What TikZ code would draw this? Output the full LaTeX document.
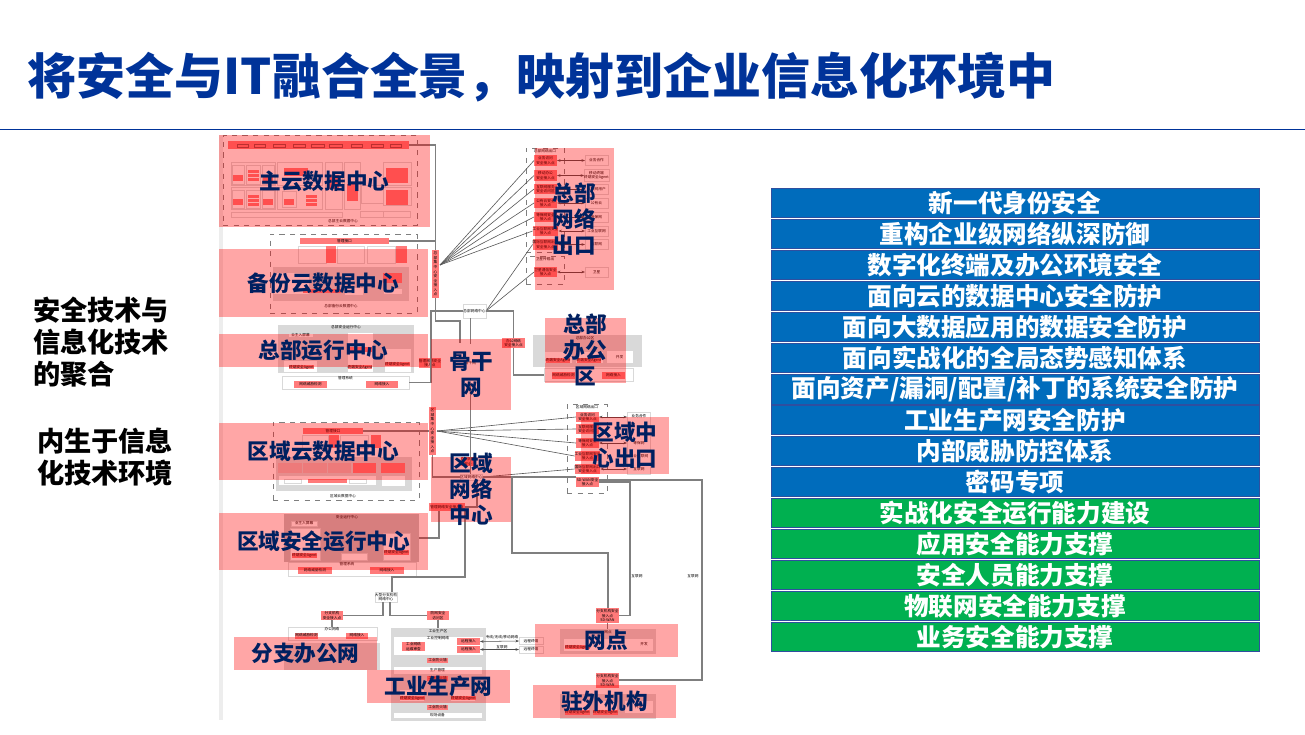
\documentclass[tikz,border=0pt]{standalone}
\usepackage{fontspec}
\setmainfont{Noto Sans CJK SC}
\usepackage{xcolor}
\usepackage{tikz}
\usetikzlibrary{arrows.meta,positioning,calc}
\definecolor{TitleBlue}{HTML}{003399}
\definecolor{Navy}{HTML}{002060}
\definecolor{RowBlue}{HTML}{006CBC}
\definecolor{RowGreen}{HTML}{00B050}
\definecolor{RowEdge}{HTML}{2F4F9F}
\definecolor{BoxRed}{HTML}{FF7A7A}
\definecolor{BoxGrey}{HTML}{D9D9D9}
\definecolor{LineGrey}{HTML}{7F7F7F}
\newcommand{\minifont}{\fontsize{2.1}{2.6}\selectfont}

\begin{document}
\begin{tikzpicture}[
  x=0.02cm, y=-0.02cm,
  every node/.style={font=\minifont, inner sep=0pt, outer sep=0pt, align=center},
  wh/.style 2 args={minimum width=#1*0.02cm, minimum height=#2*0.02cm},
  wbox/.style={rectangle, draw=BoxGrey, fill=white, line width=0.4pt},
  gbox/.style={rectangle, fill=BoxGrey},
  rbox/.style={rectangle, fill=BoxRed},
  dbox/.style={rectangle, draw=LineGrey, dashed, line width=0.4pt},
  zone/.style={rectangle, fill=red, fill opacity=0.35},
  zlabel/.style={font=\fontsize{12.3}{14.8}\selectfont\bfseries, text=Navy},
  row/.style={rectangle, draw=RowEdge, line width=0.5pt, wh={488}{29.5}, text=white,
              font=\fontsize{14}{16}\selectfont\bfseries},
  blurow/.style={row, fill=RowBlue},
  grnrow/.style={row, fill=RowGreen},
  side/.style={font=\fontsize{15.5}{18.2}\selectfont\bfseries, align=left},
  link/.style={draw=LineGrey, line width=0.6pt},
  fan/.style={draw=black!65, line width=0.35pt},
  dbl/.style={{Stealth[length=2pt,width=1.5pt]}-{Stealth[length=2pt,width=1.5pt]}, draw=black!70, line width=0.3pt},
]
\useasboundingbox (0,0) rectangle (1305,734);

%% ─ Title ────────────────────────────────────────────────────────────────────
\node[anchor=west, font=\fontsize{27.85}{30}\selectfont\bfseries, text=TitleBlue] (title) at (28,77)
     {将安全与IT融合全景，映射到企业信息化环境中};
\coordinate (ruleL) at (0,129);
\coordinate (ruleR) at (1305,129);
\draw[TitleBlue, line width=0.5pt] (ruleL) -- (ruleR);

%% ─ Left text ────────────────────────────────────────────────────────────────
\node[side, anchor=north west] (lefta) at (33,297) {安全技术与\\信息化技术\\的聚合};
\node[side, anchor=north west] (leftb) at (37,428) {内生于信息\\化技术环境};

%% ─ Sheet edge ───────────────────────────────────────────────────────────────
\node[gbox, fill=black!7, wh={4}{585}, anchor=north west] (edge) at (219,135) {};

%% ─ Main cloud ───────────────────────────────────────────────────────────────
\node[dbox, wh={194}{90}] (maindc) at (320,180) {};
\node[rbox, wh={181}{8}] (mainbar) at (318.5,145) {};
\node[wbox, draw=BoxRed!60!black, fill=BoxRed, wh={11}{3}] (p1) at (243,146) {};
\node[wbox, draw=BoxRed!60!black, fill=BoxRed, wh={11}{3}] (p2) at (260,146) {};
\node[wbox, draw=BoxRed!60!black, fill=BoxRed, wh={12}{3}] (p3) at (279,146) {};
\node[wbox, draw=BoxRed!60!black, fill=BoxRed, wh={12}{3}] (p4) at (299,146) {};
\node[wbox, draw=BoxRed!60!black, fill=BoxRed, wh={13}{3}] (p5) at (318,146) {};
\node[wbox, draw=BoxRed!60!black, fill=BoxRed, wh={13}{3}] (p6) at (336,146) {};
\node[wbox, draw=BoxRed!60!black, fill=BoxRed, wh={11}{3}] (p7) at (357,146) {};
\node[wbox, draw=BoxRed!60!black, fill=BoxRed, wh={12}{3}] (p8) at (377,146) {};
\node[wbox, draw=BoxRed!60!black, fill=BoxRed, wh={11}{3}] (p9) at (396,146) {};
\node[wbox, wh={44}{23}] (g1) at (253,173.5) {};
\node[wbox, wh={45}{23}] (g2) at (299.5,173.5) {};
\node[wbox, wh={44}{22}] (g3) at (253,198) {};
\node[wbox, wh={45}{22}] (g4) at (299.5,198) {};
\node[wbox, wh={12}{19}] (h1) at (238,175) {};
\node[wbox, wh={14}{19}] (h2) at (253,175) {};
\node[wbox, wh={12}{19}] (h3) at (268,175) {};
\node[wbox, wh={12}{18}] (h4) at (238,199) {};
\node[wbox, wh={14}{18}] (h5) at (253,199) {};
\node[wbox, wh={12}{18}] (h6) at (268,199) {};
\node[rbox, wh={10}{6}] (g1a) at (238,177.5) {};
\node[rbox, wh={11}{3}] (g1b) at (253,171.5) {};
\node[rbox, wh={11}{3}] (g1d) at (253,175.5) {};
\node[rbox, wh={11}{3}] (g1e) at (253,179.5) {};
\node[rbox, wh={10}{6}] (g1c) at (268,177.5) {};
\node[rbox, wh={10}{6}] (g3a) at (238,202) {};
\node[rbox, wh={11}{3}] (g3b) at (253,196) {};
\node[rbox, wh={11}{3}] (g3d) at (253,200) {};
\node[rbox, wh={11}{3}] (g3e) at (253,204) {};
\node[rbox, wh={10}{6}] (g3c) at (268,202) {};
\node[rbox, wh={24}{8}] (g2a) at (296,172) {};
\node[wbox, wh={14}{16}] (g4s) at (289,199) {};
\node[rbox, wh={10}{6}] (g4a) at (289,202) {};
\node[rbox, wh={11}{3}] (g4b) at (311,196) {};
\node[rbox, wh={11}{3}] (g4c) at (311,200) {};
\node[rbox, wh={11}{3}] (g4d) at (311,204) {};
\node[wbox, wh={17}{47}] (g5) at (333.5,185.5) {};
\node[rbox, wh={11}{14}] (g5a) at (333.5,182) {};
\node[wbox, wh={16}{47}] (g6) at (352,185.5) {};
\node[rbox, wh={11}{17}] (g6a) at (352,192) {};
\node[wbox, wh={28}{23}] (g7) at (397,173.5) {};
\node[rbox, wh={22}{15}] (g7a) at (397,175) {};
\node[wbox, wh={22}{18}] (g8) at (372,194) {};
\node[wbox, wh={28}{18}] (g9) at (397,196) {};
\node[rbox, wh={22}{15}] (g9a) at (397,197) {};
\node[wbox, wh={111}{5}] (g10) at (286.5,214.5) {};
\node[wbox, wh={23}{6}] (g11) at (372,214.5) {};
\node[wbox, wh={27}{6}] (g12) at (397,214.5) {};
\node (maincap) at (343,221) {总部主云数据中心};

%% ─ Backup cloud ─────────────────────────────────────────────────────────────
\node[dbox, wh={147}{79}] (bakdc) at (343.5,273.5) {};
\node[rbox, wh={89}{6}] (bakbar) at (344.5,241) {管理接口};
\node[wbox, wh={28}{17}] (b1) at (312,254.5) {};
\node[rbox, wh={10}{17}] (b2) at (331,254.5) {};
\node[wbox, wh={27}{17}] (b3) at (350.5,254.5) {};
\node[wbox, wh={28}{17}] (b4) at (381,254.5) {};
\node[rbox, wh={11}{17}] (b5) at (401.5,254.5) {};
\node[gbox, wh={136}{34}] (bgrey) at (341,284) {};
\node[wbox, wh={36}{22}] (b6) at (291,283) {};
\node[rbox, wh={38}{4}] (b7) at (322,291) {};
\node[wbox, wh={19}{8}] (b8) at (354,291) {};
\node[rbox, wh={19}{10}] (b9) at (392.5,278) {};
\node[wbox, wh={19}{6}] (b10) at (392.5,291) {};
\node (bakcap) at (341,306) {总部备份云数据中心};

%% ─ HQ operations centre ─────────────────────────────────────────────────────
\node[gbox, wh={136}{48}] (hqops) at (346,349) {};
\node (hqopscap) at (346,327.5) {总部安全运行中心};
\node[wbox, wh={25}{4}] (o1) at (300.5,335) {业主入屏幕};
\node[wbox, wh={34}{12}] (o2) at (300,366) {};
\node[rbox, wh={25}{4}] (o3) at (301.5,367) {终端安全Agent};
\node[wbox, wh={26}{40}] (o4) at (360,352) {};
\node[rbox, wh={23}{4}] (o5) at (360,367) {终端安全Agent};
\node[rbox, wh={23}{5}] (o6) at (360,349) {};
\node[wbox, wh={27}{24}] (o7) at (397.5,360) {};
\node[rbox, wh={20}{4}] (o8) at (397.5,364) {终端安全Agent};
\node[wbox, wh={127}{13}] (mgta) at (345.5,382.5) {};
\node[rbox, wh={33}{7}] (mgtb) at (310.5,384) {网络威胁检测};
\node[rbox, wh={32}{7}] (mgtc) at (382,384) {网络接入};
\node (mgtcap) at (345.5,378) {管理系统};
\node[rbox, wh={16}{10}] (hqmgt) at (430,363) {管理网络安全\\接入点};

%% ─ Regional cloud ───────────────────────────────────────────────────────────
\node[dbox, wh={146}{78}] (regdc) at (346,461) {};
\node[rbox, wh={60}{6}] (regbar) at (333,431) {管理接口};
\node[wbox, wh={26}{13}] (k1) at (315,441.5) {};
\node[rbox, wh={10}{13}] (k2) at (334,441.5) {};
\node[wbox, wh={28}{13}] (k3) at (354,441.5) {};
\node[rbox, wh={10}{13}] (k4) at (376,441.5) {};
\node[gbox, wh={136}{34}] (kgrey) at (344,474) {};
\node[wbox, draw=none, fill=BoxGrey!70!BoxRed, wh={24}{10}] (k5) at (290,468) {};
\node[wbox, draw=none, fill=BoxGrey!70!BoxRed, wh={24}{10}] (k6) at (315,468) {};
\node[wbox, draw=none, fill=BoxGrey!70!BoxRed, wh={23}{10}] (k7) at (339.5,468) {};
\node[rbox, wh={23}{10}] (k8) at (364.5,468) {};
\node[rbox, wh={24}{10}] (k9) at (393,468) {};
\node[wbox, wh={98}{10}] (k10) at (327,480) {};
\node[wbox, wh={17}{4}] (k11) at (292.5,481) {};
\node[rbox, wh={39}{4}] (k12) at (327.5,481) {};
\node[wbox, wh={17}{4}] (k13) at (357.5,481) {};
\node[wbox, wh={24}{11}] (k14) at (393,480.5) {};
\node (regcap) at (343,496) {区域云数据中心};

%% ─ Regional operations centre ───────────────────────────────────────────────
\node[gbox, fill=BoxGrey!90!black, wh={135}{48}] (regops) at (351.5,538) {};
\node (regopscap) at (347,517) {安全运行中心};
\node[wbox, wh={26}{5}] (s1) at (304,523.5) {业主入屏幕};
\node[wbox, wh={30}{32}] (s2) at (305,544) {};
\node[rbox, wh={21}{5}] (s3) at (304.5,555.5) {终端安全Agent};
\node[wbox, wh={26}{7}] (s4) at (354,556.5) {};
\node[wbox, wh={27}{27}] (s5) at (396.5,546.5) {};
\node[rbox, wh={22}{5}] (s6) at (396.5,552.5) {终端安全Agent};
\node[wbox, wh={128}{14}] (smgt) at (352,569) {};
\node (smgtcap) at (347,564.5) {管理系统};
\node[rbox, wh={34}{7}] (s7) at (315,570) {网络威胁检测};
\node[rbox, wh={34}{7}] (s8) at (387,570) {网络接入};

%% ─ Exits and regional exits ─────────────────────────────────────────────────
\node[dbox, wh={38}{104}] (hqexit) at (545,200) {};
\node (hqexitcap) at (545,151) {总部网络出口};
\node[dbox, wh={38}{28}] (satbox) at (545,270) {};
\node (satcap) at (545,259.5) {卫星传输出};
\node[rbox, wh={23}{11}] (ex1) at (545.5,160.5) {业务访问\\安全接入点};
\node[rbox, wh={23}{11}] (ex2) at (545.5,175.5) {移动办公\\安全接入点};
\node[rbox, wh={23}{10}] (ex3) at (545.5,189) {互联网服务\\安全访问区};
\node[rbox, wh={23}{10}] (ex4) at (545.5,203) {公有云安全\\接入点};
\node[rbox, wh={23}{10}] (ex5) at (545.5,217) {等保网安全\\接入点};
\node[rbox, wh={23}{10}] (ex6) at (545.5,231) {工业互联网安全\\接入点};
\node[rbox, wh={23}{11}] (ex7) at (545.5,244.5) {国际互联网出口\\安全接入点};
\node[rbox, wh={23}{10}] (ex8) at (545.5,272) {卫星通信安全\\接入点};
\node[wbox, wh={23}{10}] (ou1) at (596.5,160.5) {业务合作};
\node[wbox, wh={23}{12}] (ou2) at (596.5,175.5) {移动终端\\终端安全Agent};
\node[wbox, wh={23}{10}] (ou3) at (596.5,189) {互联网用户};
\node[wbox, wh={23}{10}] (ou4) at (596.5,203) {公有云};
\node[wbox, wh={23}{10}] (ou5) at (596.5,217) {等保网};
\node[wbox, wh={23}{10}] (ou6) at (596.5,231) {工业互联网};
\node[wbox, wh={23}{10}] (ou7) at (596.5,244.5) {互联网};
\node[wbox, wh={23}{10}] (ou8) at (596.5,272) {卫星};
\node[dbox, wh={40}{89}] (regexit) at (587,448.5) {};
\node (regexitcap) at (587,407.5) {区域网络出口};
\node[rbox, wh={23}{10}] (rx1) at (587.5,417) {业务访问\\安全接入点};
\node[rbox, wh={23}{10}] (rx2) at (587.5,429) {互联网服务\\安全访问区};
\node[rbox, wh={23}{10}] (rx3) at (587.5,443) {等保网安全\\接入点};
\node[rbox, wh={23}{10}] (rx4) at (587.5,456) {工业互联网安全\\接入点};
\node[rbox, wh={23}{10}] (rx5) at (587.5,469) {国际互联网出口\\安全接入点};
\node[rbox, wh={23}{10}] (rx6) at (587.5,482) {SD-WAN安全\\接入点};
\node[wbox, wh={23}{62}] (rout) at (639,443) {};
\node (ru1) at (639,416) {业务合作};
\node (ru2) at (639,443) {等保网};
\node (ru3) at (639,456) {工业互联网};
\node (ru4) at (639,469) {互联网};
\coordinate (rua) at (627,417);
\coordinate (rub) at (627,443);
\coordinate (ruc) at (627,469);

%% ─ Collectors and network centres ───────────────────────────────────────────
\node[rbox, wh={7}{48}] (hqin) at (435.5,274) {总\\部\\集\\中\\心\\安\\全\\接\\入\\点};
\node[rbox, wh={7}{48}] (regin) at (432.5,431) {区\\域\\集\\中\\心\\安\\全\\接\\入\\点};
\coordinate (hqfan) at (440,265);
\coordinate (regfan) at (437,431);
\node[wbox, wh={23}{14}] (hqnet) at (474.5,311) {总部网络中心};
\node[rectangle, draw=black!60, double=white, double distance=1.2pt, line width=0.35pt, wh={44}{39}] (core) at (470.5,363) {骨干网};
\node[rbox, wh={23}{10}] (hqoff) at (513.5,343) {办公网络\\安全接入点};
\node[wbox, wh={21}{6}] (regnet) at (471.5,477) {区域网络中心};
\node[rbox, wh={10}{9}] (regoff) at (468,461.5) {办公网络\\安全};
\node[rbox, wh={36}{8}] (regmgt) at (447,507) {管理网络安全接入点};
\coordinate (coreA) at (460,343);

%% ─ HQ office ────────────────────────────────────────────────────────────────
\node[gbox, wh={109}{32}] (office) at (587.5,351) {};
\node (officecap) at (585,338) {总部办公区};
\node[wbox, wh={28}{12}] (f1) at (558,357) {};
\node[rbox, wh={22}{5}] (f1a) at (558,360.5) {终端安全Agent};
\node[wbox, wh={28}{12}] (f2) at (589,357) {};
\node[rbox, wh={22}{5}] (f2a) at (589,360.5) {终端安全Agent};
\node[wbox, wh={27}{13}] (f3) at (619.5,357) {开发};
\node[wbox, wh={89}{13}] (fstrip) at (588.5,374.5) {};
\node[rbox, wh={23}{7}] (fa) at (563.5,375.5) {网络威胁检测};
\node[rbox, wh={23}{7}] (fb) at (613.5,375.5) {网络接入};

%% ─ Branch, factory and outlets ──────────────────────────────────────────────
\node[wbox, wh={22}{10}] (bignet) at (386,597) {大型分支机构\\网络中心};
\node[rbox, wh={22}{9}] (brin) at (332,615.5) {分支机构\\安全接入点};
\node[wbox, wh={89}{13}] (brnet) at (332.5,633.5) {};
\node (brcap) at (332,629.5) {办公网络};
\node[rbox, wh={23}{6}] (bra) at (306.5,635.5) {网络威胁检测};
\node[rbox, wh={22}{6}] (brb) at (357,635.5) {网络接入};
\node[gbox, wh={96}{27}] (brgrey) at (332,656.5) {};
\node[rbox, wh={22}{9}] (facin) at (438,615.5) {防网安全\\访问区};
\node[gbox, wh={95}{93}] (fac) at (438.5,674.5) {};
\node (faccap) at (438,631) {工业生产区};
\node[wbox, wh={90}{19}] (fac1) at (438,645.5) {};
\node (fac1cap) at (438,638) {工业控制网络};
\node[rbox, wh={23}{7}] (fac2) at (413.5,646.5) {工业网络\\运维审查};
\node[rbox, wh={23}{7}] (fac3) at (468.5,641.5) {远程接入};
\node[rbox, wh={23}{7}] (fac4) at (468.5,649.5) {远程接入};
\node[rbox, wh={21}{5}] (fw1) at (437.5,660.5) {工业防火墙};
\node[wbox, wh={89}{8}] (fac5) at (437.5,670) {生产管理};
\node[rbox, wh={21}{5}] (fw2) at (437.5,678.5) {工业防火墙};
\node[wbox, wh={25}{12}] (t1) at (412,695) {};
\node[wbox, wh={25}{12}] (t2) at (463,695) {};
\node[rbox, wh={21}{4}] (t1a) at (412.5,698) {终端安全Agent};
\node[rbox, wh={23}{4}] (t2a) at (463.5,698) {终端安全Agent};
\node[rbox, wh={21}{5}] (fw3) at (437.5,707.5) {工业防火墙};
\node[wbox, wh={89}{6}] (fac6) at (437.5,715) {现场设备};
\node[wbox, wh={24}{7}] (far1) at (531,641) {远程终端};
\node[wbox, wh={24}{7}] (far2) at (531,649.5) {远程终端};
\node (farlab1) at (502,637) {专线/无线/移动网络};
\node (farlab2) at (502,647) {互联网};
\node[rbox, wh={23}{15}] (netin) at (607.5,615.5) {分支机构安全\\接入点\\SD-WAN};
\node[gbox, wh={96}{25}] (netg) at (608,641.5) {};
\node (netcap) at (608,632) {网点};
\node[wbox, wh={90}{13}] (netw) at (608,644.5) {};
\node[rbox, wh={21}{4}] (neta) at (577.5,647) {终端安全Agent};
\node (netb) at (644,644.5) {开发};
\node[rbox, wh={23}{15}] (farin) at (607.5,680.5) {分支机构安全\\接入点\\SD-WAN};
\node[gbox, wh={96}{25}] (farg) at (608,706.5) {};
\node[wbox, wh={29}{13}] (farc) at (638.5,707) {开发};
\node[wbox, wh={23}{13}] (fara) at (577.5,707) {};
\node[wbox, wh={23}{13}] (farb) at (605.5,707) {};
\node[rbox, wh={21}{5}] (farra) at (577.5,712.5) {终端安全Agent};
\node[rbox, wh={21}{5}] (farrb) at (605.5,712.5) {终端安全Agent};
\node (netlab1) at (637,576) {互联网};
\node (netlab2) at (693,576) {互联网};

%% ─ Arrows: Fans ─────────────────────────────────────────────────────────────
\draw[fan] (hqfan) -- (ex1.west);
\draw[fan] (hqfan) -- (ex2.west);
\draw[fan] (hqfan) -- (ex3.west);
\draw[fan] (hqfan) -- (ex4.west);
\draw[fan] (hqfan) -- (ex5.west);
\draw[fan] (hqfan) -- (ex6.west);
\draw[fan] (regfan) -- (rx1.west);
\draw[fan] (regfan) -- (rx2.west);
\draw[fan] (regfan) -- (rx3.west);
\draw[fan] (regfan) -- (rx4.west);
\draw[fan] (hqnet.east) -- (ex7.west);
\draw[fan] (hqnet.east) -- (ex8.west);
\draw[fan] (regnet.east) -- (rx5.west);

\draw[dbl] (ex1.east) -- (ou1.west);
\draw[dbl] (ex2.east) -- (ou2.west);
\draw[dbl] (ex3.east) -- (ou3.west);
\draw[dbl] (ex4.east) -- (ou4.west);
\draw[dbl] (ex5.east) -- (ou5.west);
\draw[dbl] (ex6.east) -- (ou6.west);
\draw[dbl] (ex7.east) -- (ou7.west);
\draw[dbl] (ex8.east) -- (ou8.west);
\draw[dbl] (rx1.east) -- (rua);
\draw[dbl] (rx3.east) -- (rub);
\draw[dbl] (rx5.east) -- (ruc);
\draw[dbl] (fac3.east) -- (far1.west);
\draw[dbl] (fac4.east) -- (far2.west);

%% ─ Arrows: Backbone ─────────────────────────────────────────────────────────
\coordinate (hqturn) at (435,321);
\coordinate (opsup) at (431,311);
\coordinate (offturn) at (513,375);
\coordinate (regturn) at (432,477);
\coordinate (linkA) at (512,553);
\coordinate (linkB) at (608,553);
\coordinate (linkC) at (630,483);
\coordinate (linkD) at (702,480);
\coordinate (linkE) at (702,680);
\coordinate (linkF) at (439,538);
\coordinate (linkG) at (465,577);
\coordinate (linkH) at (392,577);
\coordinate (linkI) at (477,507);

\draw[link] (mainbar.east) -| (hqin.north);
\draw[link] (bakbar.east) -| (hqin.north);
\draw[link] (hqin.south) |- (hqturn) -| (coreA);
\draw[link] (mgta.east) -| (opsup) -- (hqnet.west);
\draw[link] (hqnet.south -| core.north) -- (core.north);
\draw[link] (hqnet.east) -| (hqoff.north);
\draw[link] (hqoff.south) |- (offturn) -- (fstrip.west |- offturn);
\draw[link] (core.south) -- (regnet.north -| core.south);
\draw[link] (regbar.east) -- (regin.west);
\draw[link] (regin.south) |- (regturn) -- (regnet.west);
\draw[link] (regnet.east) -- (rx6.west |- regnet.east);
\draw[link] (regnet.east) -| (linkA) -| (linkB) -- (netin.north -| linkB);
\draw[link] (rx6.east) -| (linkC) |- (netin.east);
\draw[link] (rx6.north east |- linkD) -- (linkD) -- (linkE) -- (farin.east |- linkE);
\draw[link] (regnet.south -| linkI) -- (linkI) -- (regmgt.east |- linkI);
\draw[link] (regmgt.south -| linkF) |- (regops.east |- linkF);
\draw[link] (regmgt.south -| linkG) -- (linkG) -- (linkH) -- (bignet.north -| linkH);
\draw[link] (bignet.south -| brin.east) ++(40,0) |- (brin.east);
\draw[link] (bignet.south) ++(4,0) |- (facin.west);
\draw[link] (brin.south) -- (brnet.north -| brin.south);
\draw[link] (facin.south) -- (fac.north -| facin.south);
\draw[link] (netin.south) -- (netg.north -| netin.south);

%% ─ Zones ────────────────────────────────────────────────────────────────────
\node[zone, wh={211}{92}] (zmain) at (324.5,181) {};
\node[zone, wh={209}{68}] (zbak) at (323.5,283) {};
\node[zone, wh={209}{33}] (zhqo) at (323.5,350.5) {};
\node[zone, wh={209}{57}] (zreg) at (323.5,451.5) {};
\node[zone, wh={209}{57}] (zsec) at (323.5,541.5) {};
\node[zone, wh={79}{142}] (zexit) at (574.5,219) {};
\node[zone, wh={81}{65}] (zoff) at (585.5,350) {};
\node[zone, wh={80}{71}] (zcore) at (471,374.5) {};
\node[zone, wh={88}{57}] (zrx) at (625,445.5) {};
\node[zone, wh={80}{65}] (znet) at (471,489.5) {};
\node[zone, wh={143}{33}] (zbr) at (305.5,653.5) {};
\node[zone, wh={143}{33}] (zfac) at (438.5,686.5) {};
\node[zone, wh={143}{33}] (zpt) at (606.5,640.5) {};
\node[zone, wh={143}{33}] (zfar) at (604.5,701.5) {};

%% ─ Zone labels ──────────────────────────────────────────────────────────────
\node[zlabel] (lmain) at (zmain.center) {主云数据中心};
\node[zlabel] (lbak) at (zbak.center) {备份云数据中心};
\node[zlabel] (lhqo) at (zhqo.center) {总部运行中心};
\node[zlabel] (lreg) at (zreg.center) {区域云数据中心};
\node[zlabel] (lsec) at (zsec.center) {区域安全运行中心};
\node[zlabel] (lexit) at (zexit.center) {总部\\网络\\出口};
\node[zlabel] (loff) at (zoff.center) {总部\\办公\\区};
\node[zlabel] (lcore) at (zcore.center) {骨干\\网};
\node[zlabel] (lrx) at (zrx.center) {区域中\\心出口};
\node[zlabel] (lnet) at (znet.center) {区域\\网络\\中心};
\node[zlabel] (lbr) at (zbr.center) {分支办公网};
\node[zlabel] (lfac) at (zfac.center) {工业生产网};
\node[zlabel] (lpt) at (zpt.center) {网点};
\node[zlabel] (lfar) at (zfar.center) {驻外机构};

%% ─ Capability rows ──────────────────────────────────────────────────────────
\node[blurow] (r1)  at (1015,203) {新一代身份安全};
\node[blurow] (r2)  at (1015,234) {重构企业级网络纵深防御};
\node[blurow] (r3)  at (1015,265) {数字化终端及办公环境安全};
\node[blurow] (r4)  at (1015,296) {面向云的数据中心安全防护};
\node[blurow] (r5)  at (1015,327) {面向大数据应用的数据安全防护};
\node[blurow] (r6)  at (1015,358) {面向实战化的全局态势感知体系};
\node[blurow] (r7)  at (1015,389.5) {面向资产/漏洞/配置/补丁的系统安全防护};
\node[blurow] (r8)  at (1015,420) {工业生产网安全防护};
\node[blurow] (r9)  at (1015,451) {内部威胁防控体系};
\node[blurow] (r10) at (1015,482) {密码专项};
\node[grnrow] (r11) at (1015,513) {实战化安全运行能力建设};
\node[grnrow] (r12) at (1015,544) {应用安全能力支撑};
\node[grnrow] (r13) at (1015,575) {安全人员能力支撑};
\node[grnrow] (r14) at (1015,606) {物联网安全能力支撑};
\node[grnrow] (r15) at (1015,637) {业务安全能力支撑};

\end{tikzpicture}
\end{document}
